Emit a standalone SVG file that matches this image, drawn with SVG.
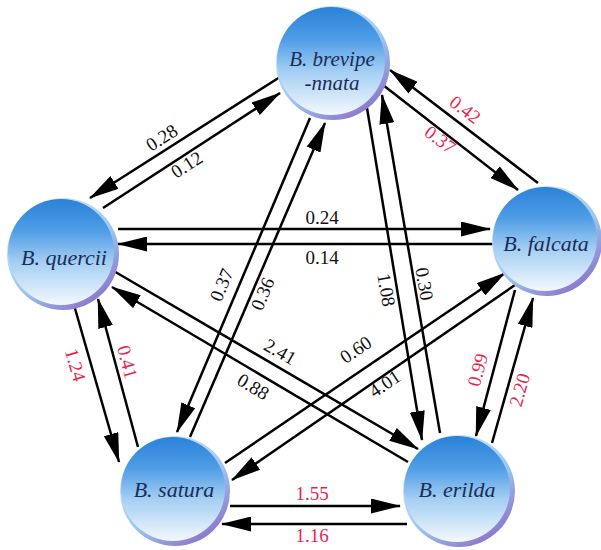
<svg xmlns="http://www.w3.org/2000/svg" width="601" height="550" viewBox="0 0 601 550">
  <defs>
    <linearGradient id="rim" x1="0.2" y1="0.1" x2="0.8" y2="0.95">
      <stop offset="0" stop-color="#cfe8fb"/>
      <stop offset="0.55" stop-color="#9cc6ef"/>
      <stop offset="1" stop-color="#8a74c9"/>
    </linearGradient>
    <linearGradient id="ball" x1="0" y1="0" x2="0" y2="1">
      <stop offset="0" stop-color="#2a82d8"/>
      <stop offset="0.3" stop-color="#4f9de6"/>
      <stop offset="0.6" stop-color="#a5cff3"/>
      <stop offset="1" stop-color="#f3f8fd"/>
    </linearGradient>
    <marker id="ah" markerUnits="userSpaceOnUse" markerWidth="30" markerHeight="15" viewBox="0 0 30 15" refX="29" refY="7.5" orient="auto">
      <path d="M0,0 L30,7.5 L0,15 z" fill="#000"/>
    </marker>
  </defs>
  <style>
    .edge { stroke: #000; stroke-width: 2.5; fill: none; marker-end: url(#ah); }
    .lbl { font-family: "Liberation Serif", "Times New Roman", serif; font-size: 19px; text-anchor: middle; fill: #111; }
    .red { fill: #ec1f4e; }
    .name { font-family: "Liberation Serif", "Times New Roman", serif; font-style: italic; font-size: 22px; text-anchor: middle; fill: #1a2c55; }
    .name2 { font-size: 21px; }
    .rim { fill: url(#rim); }
    .ball { fill: url(#ball); }
  </style>
  <rect width="601" height="550" fill="#fff"/>

  <!-- connectors -->
  <g id="connectors">
    <line class="edge" x1="280" y1="77" x2="90" y2="198"/>
    <line class="edge" x1="103" y1="208" x2="280" y2="93"/>
    <line class="edge" x1="383" y1="85" x2="518" y2="190"/>
    <line class="edge" x1="538" y1="183" x2="390" y2="70"/>
    <line class="edge" x1="118" y1="229" x2="490" y2="229"/>
    <line class="edge" x1="493" y1="244" x2="118" y2="244"/>
    <line class="edge" x1="310" y1="118" x2="177" y2="432"/>
    <line class="edge" x1="190" y1="437" x2="325" y2="123"/>
    <line class="edge" x1="367" y1="108" x2="422" y2="440"/>
    <line class="edge" x1="440" y1="433" x2="382" y2="95"/>
    <line class="edge" x1="515" y1="290" x2="476" y2="436"/>
    <line class="edge" x1="492" y1="443" x2="533" y2="298"/>
    <line class="edge" x1="74" y1="305" x2="119" y2="462"/>
    <line class="edge" x1="138" y1="447" x2="98" y2="299"/>
    <line class="edge" x1="112" y1="270" x2="418" y2="449"/>
    <line class="edge" x1="408" y1="462" x2="112" y2="287"/>
    <line class="edge" x1="225" y1="463" x2="505" y2="273"/>
    <line class="edge" x1="515" y1="285" x2="232" y2="480"/>
    <line class="edge" x1="230" y1="506" x2="400" y2="506"/>
    <line class="edge" x1="407" y1="524" x2="222" y2="524"/>

    <text class="lbl" transform="translate(162,138) rotate(-33)" y="6">0.28</text>
    <text class="lbl" transform="translate(187,165) rotate(-33)" y="6">0.12</text>
    <text class="lbl red" transform="translate(465,110) rotate(37)" y="6">0.42</text>
    <text class="lbl red" transform="translate(440,140) rotate(37)" y="6">0.37</text>
    <text class="lbl" x="322" y="224">0.24</text>
    <text class="lbl" x="322" y="264">0.14</text>
    <text class="lbl" transform="translate(222,285) rotate(-67)" y="6">0.37</text>
    <text class="lbl" transform="translate(263,294) rotate(-67)" y="6">0.36</text>
    <text class="lbl" transform="translate(386,290) rotate(80)" y="6">1.08</text>
    <text class="lbl" transform="translate(424,284) rotate(80)" y="6">0.30</text>
    <text class="lbl red" transform="translate(478,370) rotate(-75)" y="6">0.99</text>
    <text class="lbl red" transform="translate(520,390) rotate(-74)" y="6">2.20</text>
    <text class="lbl red" transform="translate(75,365) rotate(74)" y="6">1.24</text>
    <text class="lbl red" transform="translate(127,362) rotate(75)" y="6">0.41</text>
    <text class="lbl" transform="translate(280,352) rotate(30)" y="6">2.41</text>
    <text class="lbl" transform="translate(253,387) rotate(31)" y="6">0.88</text>
    <text class="lbl" transform="translate(356,350) rotate(-34)" y="6">0.60</text>
    <text class="lbl" transform="translate(385,384) rotate(-34)" y="6">4.01</text>
    <text class="lbl red" x="312" y="500">1.55</text>
    <text class="lbl red" x="312" y="542">1.16</text>
  </g>

  <!-- nodes -->
  <g id="node-brevipennata">
    <circle class="rim" cx="333" cy="63" r="57"/>
    <circle class="ball" cx="331" cy="61" r="54"/>
    <text class="name name2" x="332" y="66">B. brevipe</text>
    <text class="name name2" x="332" y="90">-nnata</text>
  </g>
  <g id="node-quercii">
    <circle class="rim" cx="63" cy="254" r="56"/>
    <circle class="ball" cx="61" cy="252" r="53"/>
    <text class="name" x="64" y="265">B. quercii</text>
  </g>
  <g id="node-falcata">
    <circle class="rim" cx="547" cy="241" r="55"/>
    <circle class="ball" cx="545" cy="239" r="52"/>
    <text class="name" x="546" y="251">B. falcata</text>
  </g>
  <g id="node-satura">
    <circle class="rim" cx="175" cy="491" r="55"/>
    <circle class="ball" cx="173" cy="489" r="52"/>
    <text class="name" x="174" y="497">B. satura</text>
  </g>
  <g id="node-erilda">
    <circle class="rim" cx="459" cy="491" r="56"/>
    <circle class="ball" cx="457" cy="489" r="53"/>
    <text class="name" x="457" y="497">B. erilda</text>
  </g>
</svg>
